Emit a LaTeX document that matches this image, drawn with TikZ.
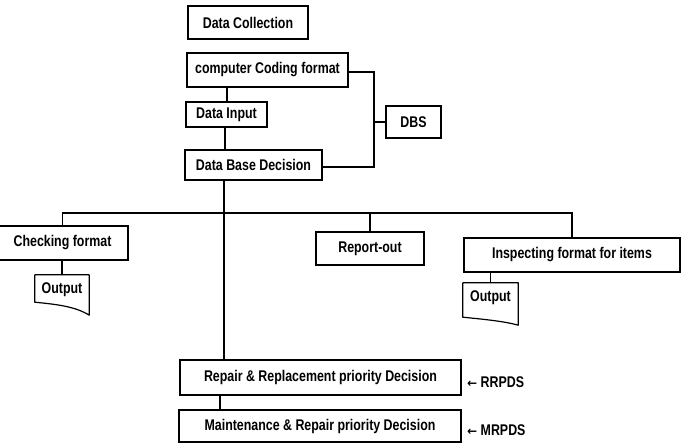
\documentclass[tikz,border=0pt]{standalone}
\usepackage{fontspec}
\newfontfamily\diagfont{Liberation Sans}[FakeStretch=0.8]
\newfontfamily\arrfont{DejaVu Sans}
\usetikzlibrary{calc}
\begin{document}
\begin{tikzpicture}[x=1pt,y=-1pt,
  txt/.style={font=\diagfont\bfseries\fontsize{15.5}{17}\selectfont},
  box/.style={txt, draw, line width=1.2pt, inner sep=0pt},
  thickbox/.style={box, line width=2.4pt},
  doc/.style={txt, inner sep=0pt, minimum width=54pt, minimum height=30pt},
  docline/.style={line width=1.2pt, line join=round},
  conn/.style={line width=1.2pt},
  side/.style={txt, inner sep=0pt, anchor=west}]
\useasboundingbox[fill=white] (0,0) rectangle (681,444);

% top column
\node[box, minimum width=120pt, minimum height=33pt] (dc) at (248,22.5) {Data Collection};
\node[box, minimum width=161pt, minimum height=34pt] (ccf) at (267.5,70) {computer Coding format};
\node[box, minimum width=81pt, minimum height=25pt] (di) at (226.5,114.5) {Data Input};
\node[thickbox, minimum width=137pt, minimum height=30pt] (dbd) at (253.5,165) {Data Base Decision};
\node[box, minimum width=55pt, minimum height=32pt] (dbs) at (413.5,122) {DBS};

% branch boxes
\node[box, minimum width=131pt, minimum height=34pt] (chk) at (62.5,243) {Checking format};
\node[box, minimum width=108pt, minimum height=33pt] (rep) at (370,248.5) {Report-out};
\node[box, minimum width=216pt, minimum height=34pt] (insp) at (572,255) {Inspecting format for items};

% outputs
\node[doc] (out1) at (62,290) {Output};
\node[doc, minimum width=55pt] (out2) at (490.5,298) {Output};

% bottom boxes
\node[box, minimum width=281pt, minimum height=35pt] (rr) at (320.5,377.5) {Repair \& Replacement priority Decision};
\node[box, minimum width=282pt, minimum height=32pt] (mr) at (320,426) {Maintenance \& Repair priority Decision};
\node[side] (rrl) at (467,382) {{\arrfont\bfseries\fontsize{12}{14}\selectfont ←} RRPDS};
\node[side] (mrl) at (467,430) {{\arrfont\bfseries\fontsize{12}{14}\selectfont ←} MRPDS};

% helper coordinates
\coordinate (spine) at (224,0);
\coordinate (brk) at (374,0);
\coordinate (bj) at (224,213);

% document outlines
\draw[docline] (out1.north east) -- (out1.north west) -- ($(out1.south west)+(0,-3)$)
  .. controls ($(out1.south west)+(20,-1)$) and ($(out1.south east)+(-14,1)$) .. ($(out1.south east)+(0,10)$) -- cycle;
\draw[docline] (out2.north east) -- (out2.north west) -- ($(out2.south west)+(0,4)$)
  .. controls ($(out2.south west)+(20,6)$) and ($(out2.south east)+(-14,8)$) .. ($(out2.south east)+(0,12)$) -- cycle;

% column connectors
\draw[conn] (ccf.south -| spine) ++(3,0) -- ($(di.north -| spine)+(3,0)$);
\draw[conn] (di.south -| spine) ++(1,0) -- ($(dbd.north -| spine)+(1,0)$);
\draw[conn] (dbd.south -| spine) -- (rr.north -| spine);
\draw[conn] ($(rr.south -| spine)+(-4,0)$) -- ($(mr.north -| spine)+(-4,0)$);

% DBS bracket
\draw[conn] ($(ccf.east)+(0,2)$) -- ($(ccf.east -| brk)+(0,2)$) -- ($(dbd.east -| brk)+(0,2)$) -- ($(dbd.east)+(0,2)$);
\draw[conn] (brk |- dbs.west) -- (dbs.west);

% branch line
\draw[conn] (chk.north) |- (insp.north |- bj) -- (insp.north);
\draw[conn] (rep.north) -- (rep.north |- bj);

% outputs connectors
\draw[conn] (chk.south -| out1.north) -- (out1.north);
\draw[conn] (insp.south -| out2.north) -- (out2.north);
\end{tikzpicture}
\end{document}
